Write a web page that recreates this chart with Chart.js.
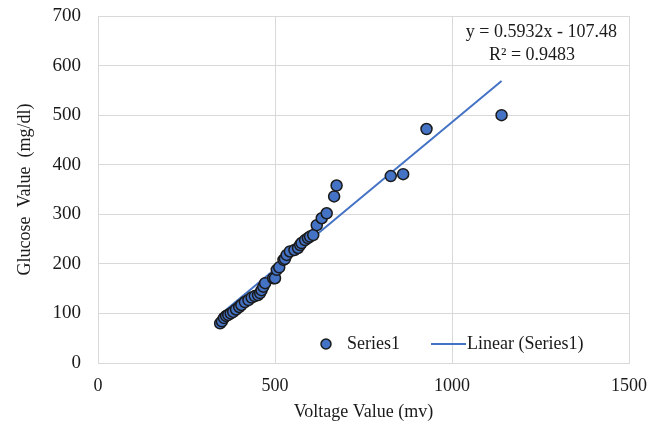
<!DOCTYPE html>
<html>
<head>
<meta charset="utf-8">
<script src="https://cdn.jsdelivr.net/npm/chart.js@4"></script>
<style>
  html, body { margin: 0; padding: 0; background: #fff; }
  #wrap { width: 660px; height: 431px; }
</style>
</head>
<body>
<div id="wrap"><canvas id="chart" width="660" height="431"></canvas></div>
<script>
// voltage (mv) vs glucose (mg/dl)
const voltage = [345,350,356,362,368,375,382,390,399,405,415,425,434,443,452,458,462,467,472,495,500,505,512,524,528,533,542,555,565,571,575,585,593,599,608,618,632,646,667,674,827,862,928,1140];
const glucose = [80,84,91,95,97,100,103,108,113,117,123,127,132,135,137,141,147,154,161,171,171,188,193,208,210,218,225,228,232,238,242,248,252,255,258,278,292,302,336,358,377,381,472,500];

// trendline as printed on the chart
const slope = 0.5932;
const intercept = -107.48;
const r2 = 0.9483;

const xTicks = [0, 500, 1000, 1500];
const yTicks = [0, 100, 200, 300, 400, 500, 600, 700];

const BLUE = '#4472c4';
const FONT = '"Liberation Serif", "Times New Roman", serif';

const points = voltage.map((v, i) => ({ x: v, y: glucose[i] }));
const xMin = Math.min(...voltage), xMax = Math.max(...voltage);
const trend = [xMin, xMax].map(x => ({ x: x, y: slope * x + intercept }));

// legend + equation drawn inside the plot area like the Excel original
const overlay = {
  id: 'overlay',
  afterDraw(chart) {
    const { ctx, chartArea: a } = chart;
    ctx.save();
    ctx.fillStyle = '#1a1a1a';
    ctx.font = '18px ' + FONT;
    ctx.textBaseline = 'middle';

    // equation
    ctx.textAlign = 'right';
    ctx.fillText('y = ' + slope + 'x - ' + Math.abs(intercept).toFixed(2), a.right - 12, a.top + 16);
    ctx.textAlign = 'center';
    ctx.fillText('R\u00b2 = ' + r2, a.right - 97, a.top + 39);

    // legend
    const ly = a.bottom - 19;
    ctx.beginPath();
    ctx.arc(326, ly, 5, 0, Math.PI * 2);
    ctx.fillStyle = BLUE;
    ctx.fill();
    ctx.lineWidth = 1.5;
    ctx.strokeStyle = '#1a1a1a';
    ctx.stroke();
    ctx.fillStyle = '#1a1a1a';
    ctx.textAlign = 'left';
    ctx.fillText('Series1', 347, ly);
    ctx.beginPath();
    ctx.moveTo(431, ly);
    ctx.lineTo(466, ly);
    ctx.strokeStyle = BLUE;
    ctx.lineWidth = 2;
    ctx.stroke();
    ctx.fillText('Linear (Series1)', 467, ly);
    ctx.restore();
  }
};

new Chart(document.getElementById('chart'), {
  type: 'scatter',
  data: {
    datasets: [
      {
        label: 'Linear (Series1)',
        type: 'line',
        data: trend,
        borderColor: BLUE,
        borderWidth: 2,
        pointRadius: 0,
        fill: false,
        order: 2
      },
      {
        label: 'Series1',
        data: points,
        backgroundColor: BLUE,
        borderColor: '#1a1a1a',
        borderWidth: 1.5,
        pointRadius: 5.5,
        order: 1
      }
    ]
  },
  options: {
    responsive: false,
    animation: false,
    layout: { padding: { left: 0, right: 31, top: 16, bottom: 0 } },
    plugins: { legend: { display: false }, tooltip: { enabled: false } },
    scales: {
      x: {
        type: 'linear', min: 0, max: 1500,
        afterBuildTicks: s => { s.ticks = xTicks.map(v => ({ value: v })); },
        afterFit: s => { s.height = 68; s.paddingRight = 0; s.paddingLeft = 0; },
        grid: { color: '#d9d9d9', lineWidth: 1, drawTicks: false },
        border: { color: '#d9d9d9' },
        ticks: { color: '#1a1a1a', font: { family: FONT, size: 18 }, padding: 12, callback: v => String(v) },
        title: { display: true, text: 'Voltage Value (mv)', color: '#1a1a1a', font: { family: FONT, size: 18 }, padding: { top: 0, bottom: 8 } }
      },
      y: {
        type: 'linear', min: 0, max: 700,
        afterBuildTicks: s => { s.ticks = yTicks.map(v => ({ value: v })); },
        afterFit: s => { s.width = 98; s.paddingTop = 0; s.paddingBottom = 0; },
        grid: { color: '#d9d9d9', lineWidth: 1, drawTicks: false },
        border: { color: '#d9d9d9' },
        ticks: { color: '#1a1a1a', font: { family: FONT, size: 19 }, padding: 17, callback: v => String(v) },
        title: { display: true, text: 'Glucose  Value  (mg/dl)', color: '#1a1a1a', font: { family: FONT, size: 18 }, padding: { top: 14, bottom: 0 } }
      }
    }
  },
  plugins: [overlay]
});
</script>
</body>
</html>
